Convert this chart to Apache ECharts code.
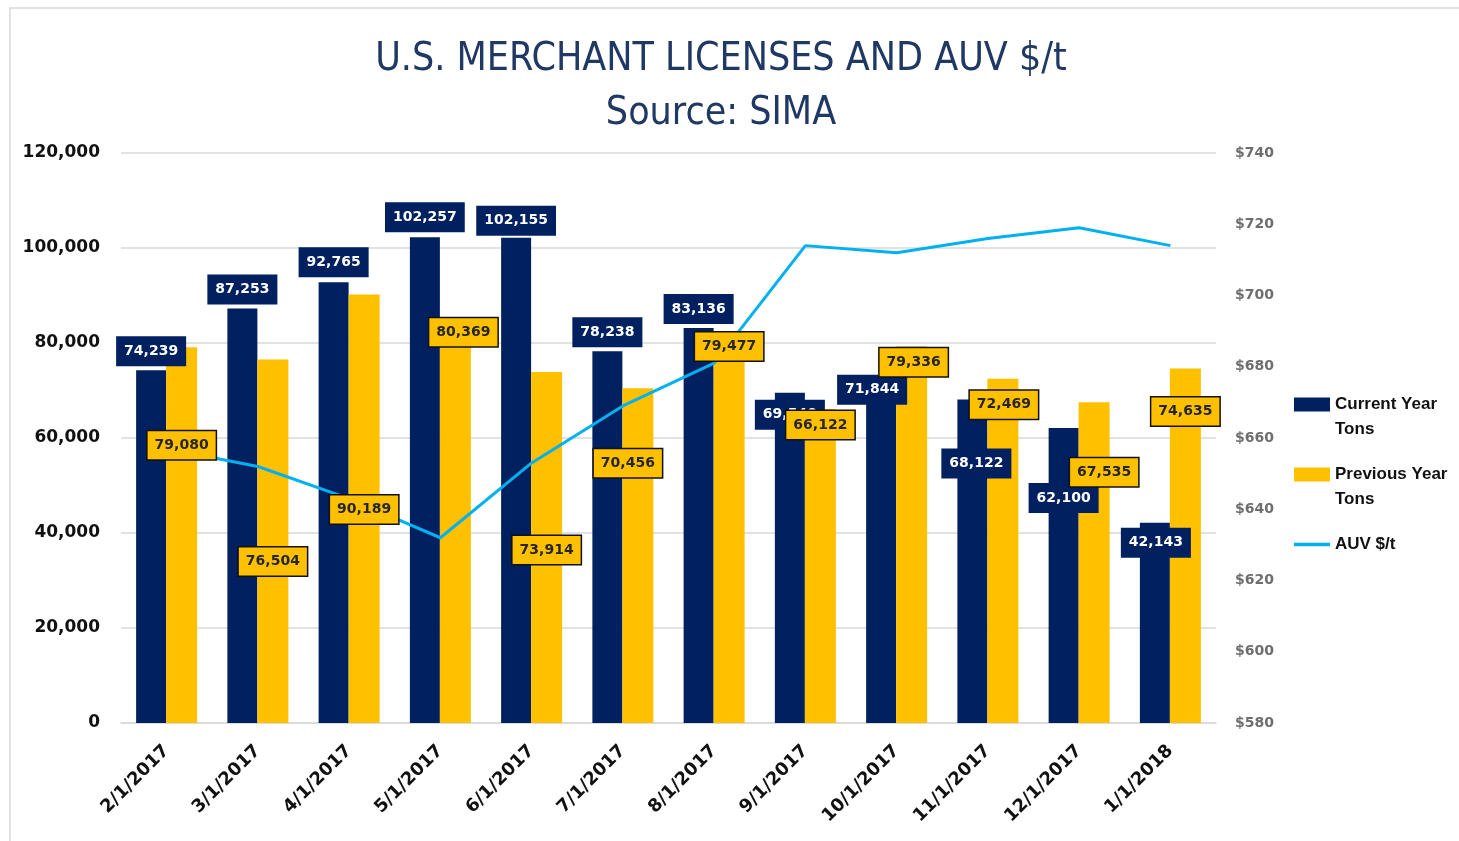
<!DOCTYPE html>
<html>
<head>
<meta charset="utf-8">
<title>U.S. Merchant Licenses and AUV</title>
<script src="https://cdn.jsdelivr.net/npm/echarts@6/dist/echarts.min.js"></script>
<style>
  html, body { margin: 0; padding: 0; background: #fff; }
  #chart { width: 1459px; height: 841px; }
</style>
</head>
<body>
<div id="chart"></div>
<script>
// data
const categories = ['2/1/2017', '3/1/2017', '4/1/2017', '5/1/2017', '6/1/2017', '7/1/2017',
  '8/1/2017', '9/1/2017', '10/1/2017', '11/1/2017', '12/1/2017', '1/1/2018'];
const currentYearTons = [74239, 87253, 92765, 102257, 102155, 78238, 83136, 69540, 71844, 68122, 62100, 42143];
const previousYearTons = [79080, 76504, 90189, 80369, 73914, 70456, 79477, 66122, 79336, 72469, 67535, 74635];
const auvPerTon = [657, 652, 643, 632, 653, 669, 681, 714, 712, 716, 719, 714];

// label nudges (the source chart had hand-placed labels)
const curLabelShift = [[0, 0], [0, 0], [0, -1], [0, -1], [0, 2], [0, 0], [0, 0], [0, 41], [-9, 27], [4, 83], [0, 89], [1, 39]];
const prevLabelShift = [[0, 116], [0, 220], [0, 233], [8, 9], [0, 196], [-10, 93], [0, 19], [0, 34], [2, 34], [1, 44], [10, 88], [0, 61]];

const NAVY = '#002060', GOLD = '#ffc000', SKY = '#00b0f0';
const FONT = 'DejaVu Sans';
const TITLE_FONT = 'Liberation Sans Narrow, DejaVu Sans Condensed, sans-serif';

const fmt = v => v.toLocaleString('en-US');

function labelled(values, shifts) {
  return values.map((v, i) => ({ value: v, label: { offset: shifts[i] } }));
}

const labelBase = {
  show: true, position: 'top', distance: 4,
  formatter: p => fmt(p.value),
  fontFamily: FONT, fontSize: 14, fontWeight: 'bold', lineHeight: 16
};

const chart = echarts.init(document.getElementById('chart'));

chart.setOption({
  backgroundColor: '#fff',
  animation: false,
  graphic: [{
    type: 'rect',
    shape: { x: 10, y: 8, width: 1470, height: 860 },
    style: { fill: 'none', stroke: '#d9d9d9', lineWidth: 1.5 },
    silent: true
  }],
  title: [{
    text: 'U.S. MERCHANT LICENSES AND AUV $/t',
    left: 716, top: 35, textAlign: 'center',
    textStyle: { fontFamily: TITLE_FONT, fontSize: 39, fontWeight: 'normal', color: '#1f3864' }
  }, {
    text: 'Source: SIMA',
    left: 716, top: 89, textAlign: 'center',
    textStyle: { fontFamily: TITLE_FONT, fontSize: 39, fontWeight: 'normal', color: '#1f3864' }
  }],
  legend: {
    orient: 'vertical',
    left: 1294, top: 367,
    padding: 0,
    itemWidth: 36, itemHeight: 14,
    itemGap: -5,
    symbolKeepAspect: true,
    // blank lines keep the icon level with the first text line
    formatter: name => name === 'AUV $/t' ? ' \n' + name + '\n ' : ' \n' + name.replace(' Tons', '\nTons'),
    textStyle: { fontFamily: 'Liberation Sans', fontSize: 17, fontWeight: 'bold', color: '#111', lineHeight: 25 },
    data: [
      { name: 'Current Year Tons', icon: 'rect' },
      { name: 'Previous Year Tons', icon: 'rect' },
      { name: 'AUV $/t', icon: 'path://M0,0 L36,0 L36,3.5 L0,3.5 Z' }
    ]
  },
  grid: { left: 121, right: 243, top: 153, bottom: 118, containLabel: false },
  xAxis: [{
    type: 'category',
    data: categories,
    axisTick: { show: false },
    axisLine: { lineStyle: { color: '#d9d9d9', width: 1.5 } },
    axisLabel: { rotate: 45, margin: 25, color: '#111', fontFamily: FONT, fontSize: 18, fontWeight: 'bold' }
  }, {
    // twin axis so the data labels can sit above the AUV line
    type: 'category',
    data: categories,
    show: false
  }],
  yAxis: [{
    type: 'value',
    min: 0, max: 120000, interval: 20000,
    axisLine: { show: false },
    axisTick: { show: false },
    splitLine: { lineStyle: { color: '#d9d9d9', width: 1.5 } },
    axisLabel: { margin: 21, color: '#111', fontFamily: FONT, fontSize: 17, fontWeight: 'bold', formatter: v => fmt(v) }
  }, {
    type: 'value',
    min: 580, max: 740, interval: 20,
    axisLine: { show: false },
    axisTick: { show: false },
    splitLine: { show: false },
    axisLabel: { margin: 19, color: '#6e6e6e', fontFamily: FONT, fontSize: 14, fontWeight: 'bold', formatter: v => '$' + v }
  }],
  series: [{
    name: 'Current Year Tons',
    type: 'bar',
    barWidth: 30,
    barGap: 0,
    itemStyle: { color: NAVY },
    data: currentYearTons
  }, {
    name: 'Previous Year Tons',
    type: 'bar',
    barWidth: 31,
    barGap: 0,
    itemStyle: { color: GOLD },
    data: previousYearTons
  }, {
    name: 'AUV $/t',
    type: 'line',
    yAxisIndex: 1,
    symbol: 'none',
    lineStyle: { color: SKY, width: 3 },
    itemStyle: { color: SKY },
    z: 2,
    data: auvPerTon
  }, {
    name: 'cur-labels',
    type: 'bar',
    xAxisIndex: 1,
    barWidth: 30,
    barGap: 0,
    silent: true,
    z: 4,
    itemStyle: { color: 'rgba(0,0,0,0)' },
    data: labelled(currentYearTons, curLabelShift),
    label: Object.assign({}, labelBase, { color: '#fff', backgroundColor: NAVY, padding: [7, 8] })
  }, {
    name: 'prev-labels',
    type: 'bar',
    xAxisIndex: 1,
    barWidth: 31,
    barGap: 0,
    silent: true,
    z: 4,
    itemStyle: { color: 'rgba(0,0,0,0)' },
    data: labelled(previousYearTons, prevLabelShift),
    label: Object.assign({}, labelBase, {
      color: '#262626', backgroundColor: GOLD, borderColor: '#111', borderWidth: 1.5, padding: [6, 7]
    })
  }]
});
</script>
</body>
</html>
